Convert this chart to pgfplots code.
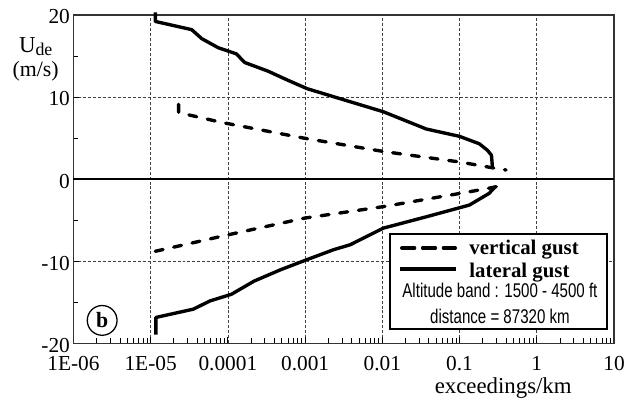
\documentclass[border=0pt]{standalone}
\usepackage{pgfplots}
\pgfplotsset{compat=1.18}
\usepackage{fontspec}
\setmainfont{Liberation Serif}
\newfontfamily\narrowsans[FakeStretch=0.76]{Liberation Sans}
\begin{document}
\begin{tikzpicture}
\begin{axis}[
  scale only axis, width=545pt, height=331pt,
  xmode=log, xmin=1e-6, xmax=10, ymin=-20, ymax=20,
  clip=false,
  xtick={1e-6,1e-5,1e-4,1e-3,1e-2,1e-1,1,10},
  xticklabels={1E-06,1E-05,0.0001,0.001,0.01,0.1,1,10},
  ytick={-20,-10,10,20}, yticklabels={-20,-10,10,20},
  extra y ticks={0}, extra y tick labels={0},
  extra y tick style={grid=major, major grid style={solid, black, line width=1.2pt}},
  minor ytick={-15,-5,5,15},
  tick pos=left, tick align=inside,
  major tick length=6pt, minor tick length=5pt,
  grid=major,
  major grid style={black!75, line width=0.6pt, dash pattern=on 3pt off 2pt},
  axis line style={black!80, line width=1.3pt},
  tick style={black, line width=0.8pt},
  tick label style={font=\fontsize{21.5}{24}\selectfont},
  xticklabel style={anchor=base, yshift=-27pt},
  yticklabel style={yshift=-2pt},
  xlabel={exceedings/km},
  xlabel style={font=\fontsize{23}{26}\selectfont, at={(rel axis cs:0.795,0)}, anchor=base, yshift=-51pt},
]
% lateral gust, positive
\addplot[black, line width=3.4pt, line join=round] coordinates {
(1.15e-5,20.3) (1.15e-5,19.2) (3.4e-5,18.2) (4.6e-5,17.1) (7.5e-5,16.0)
(1.29e-4,15.25) (1.65e-4,14.2) (3.3e-4,13.15) (5.9e-4,12.06) (1.07e-3,11.0)
(2.6e-3,9.9) (0.0103,8.2) (0.037,6.1) (0.1,5.2) (0.18,4.3) (0.23,3.5)
(0.259,2.9) (0.267,1.3)
};
% lateral gust, negative
\addplot[black, line width=3.4pt, line join=round] coordinates {
(1.17e-5,-18.95) (1.17e-5,-16.86) (3.57e-5,-15.85) (5.9e-5,-14.84) (1.11e-4,-14.04)
(2.2e-4,-12.42) (4.9e-4,-11.02) (1.07e-3,-9.8) (2.35e-3,-8.6) (3.85e-3,-8.0)
(0.0103,-5.98) (0.037,-4.6) (0.134,-3.17) (0.241,-1.75) (0.29,-0.94)
};
% vertical gust, positive
\addplot[black, line width=3.4pt, line cap=round, dash pattern=on 8pt off 11pt] coordinates {
(2.3e-5,9.1) (2.3e-5,8.1) (8.3e-5,6.9) (9.7e-4,4.98) (0.0103,3.36) (0.1,2.08)
(0.275,1.35) (0.4,1.1)
};
% vertical gust, negative
\addplot[black, line width=3.4pt, line cap=round, dash pattern=on 8pt off 11pt] coordinates {
(1.15e-5,-8.8) (1.0e-4,-6.8) (9.7e-4,-4.77) (0.0103,-3.36) (0.134,-1.55)
(0.254,-1.07) (0.34,-0.82)
};
\coordinate (BL) at (rel axis cs:0,0);
\coordinate (BR) at (rel axis cs:1,0);
\coordinate (TL) at (rel axis cs:0,1);
\coordinate (TR) at (rel axis cs:1,1);
\end{axis}
% y label
\node[font=\fontsize{23}{24}\selectfont] at ([shift={(-38pt,-32pt)}]TL) {U\raisebox{-4pt}{\fontsize{18}{20}\selectfont de}};
\node[font=\fontsize{22}{24}\selectfont] at ([shift={(-38pt,-57pt)}]TL) {(m/s)};
% panel label
\draw[line width=1.3pt] ([shift={(29pt,23pt)}]BL) circle (15pt);
\node[font=\fontsize{22}{24}\selectfont\bfseries] at ([shift={(29pt,23pt)}]BL) {b};
% legend
\draw[line width=2pt, fill=white] ([shift={(-226pt,14pt)}]BR) rectangle ([shift={(-7pt,110pt)}]BR);
\draw[black, line width=3.4pt, line cap=round, dash pattern=on 13pt off 8pt] ([shift={(-214pt,96pt)}]BR) -- ([shift={(-160pt,96pt)}]BR);
\draw[black, line width=3.4pt] ([shift={(-216pt,75pt)}]BR) -- ([shift={(-159pt,75pt)}]BR);
\node[anchor=base west, inner sep=0pt, font=\fontsize{21}{24}\selectfont\bfseries] at ([shift={(-146pt,89pt)}]BR) {vertical gust};
\node[anchor=base west, inner sep=0pt, font=\fontsize{21}{24}\selectfont\bfseries] at ([shift={(-146pt,66pt)}]BR) {lateral gust};
\node[anchor=base, inner sep=0pt, font=\fontsize{20}{22}\narrowsans] at ([shift={(-115pt,46pt)}]BR) {Altitude band : 1500 - 4500 ft};
\node[anchor=base, inner sep=0pt, font=\fontsize{20}{22}\narrowsans] at ([shift={(-115pt,20pt)}]BR) {distance = 87320 km};
% bounding box
\path ([shift={(-74pt,-61pt)}]BL) rectangle ([shift={(9pt,15pt)}]TR);
\end{tikzpicture}
\end{document}
